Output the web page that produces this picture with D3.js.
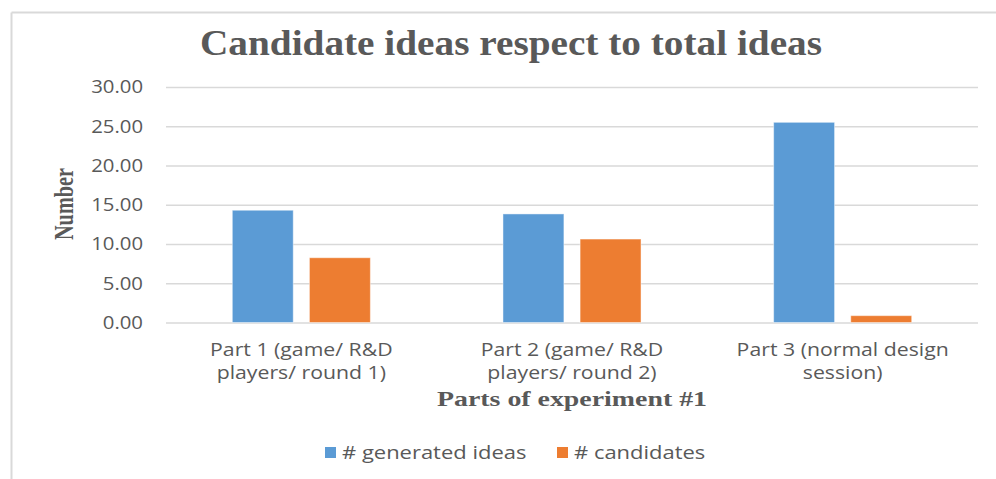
<!DOCTYPE html>
<html>
<head>
<meta charset="utf-8">
<script src="https://cdn.jsdelivr.net/npm/d3@7"></script>
<style>
  html, body { margin: 0; padding: 0; background: #fff; }
  svg { display: block; }
</style>
</head>
<body>
<div id="chart"></div>
<script>
// Chart data
const categories = [
  ["Part 1 (game/ R&D", "players/ round 1)"],
  ["Part 2 (game/ R&D", "players/ round 2)"],
  ["Part 3 (normal design", "session)"]
];
const seriesNames = ["# generated ideas", "# candidates"];
const generatedIdeas = [14.3, 13.83, 25.5];
const candidates = [8.25, 10.63, 0.87];
const yTicks = [0, 5, 10, 15, 20, 25, 30];
const seriesColors = ["#5B9BD5", "#ED7D31"];

const W = 996, H = 479;
const margin = { left: 166, right: 18, top: 87, bottom: 156.5 };
const textGray = "#595959";
const sansFont = "'Open Sans', 'Liberation Sans', sans-serif";
const serifFont = "'Liberation Serif', 'DejaVu Serif', serif";

// Widen text horizontally by a factor, keeping its anchor
function widen(sel, factor) {
  sel.each(function () {
    const len = this.getComputedTextLength();
    d3.select(this).attr("textLength", len * factor).attr("lengthAdjust", "spacingAndGlyphs");
  });
}

const svg = d3.select("#chart").append("svg")
  .attr("width", W).attr("height", H);

// Chart frame (only top and left edges remain in view)
svg.append("line").attr("x1", 11.5).attr("x2", W).attr("y1", 12.5).attr("y2", 12.5)
  .attr("stroke", "#D9D9D9").attr("stroke-width", 2);
svg.append("line").attr("x1", 11.5).attr("x2", 11.5).attr("y1", 12.5).attr("y2", H)
  .attr("stroke", "#D9D9D9").attr("stroke-width", 2);

const plotW = W - margin.left - margin.right;
const plotH = H - margin.top - margin.bottom;

const idx = d3.range(categories.length);
const x0 = d3.scaleBand().domain(idx).range([margin.left, margin.left + plotW])
  .paddingInner(0.49).paddingOuter(0.245);
const x1 = d3.scaleBand().domain(d3.range(seriesNames.length)).range([0, x0.bandwidth()])
  .paddingInner(0.21);
const y = d3.scaleLinear().domain([0, 30]).range([margin.top + plotH, margin.top]);

// Gridlines and value axis
const yAxis = d3.axisLeft(y).tickValues(yTicks).tickFormat(d3.format(".2f"))
  .tickSize(-plotW).tickPadding(23);
const gy = svg.append("g").attr("transform", `translate(${margin.left},0)`).call(yAxis);
gy.select(".domain").remove();
gy.selectAll(".tick line").attr("stroke", "#D9D9D9").attr("stroke-width", 1.5);
gy.selectAll(".tick text").attr("fill", textGray)
  .style("font-family", sansFont).style("font-size", "18px");
widen(gy.selectAll(".tick text"), 1.13);

// Bars
const values = [generatedIdeas, candidates];
const groups = svg.append("g").selectAll("g").data(idx).join("g")
  .attr("transform", d => `translate(${x0(d)},0)`);
groups.selectAll("rect")
  .data(i => values.map((v, s) => ({ s, v: v[i] })))
  .join("rect")
  .attr("x", d => x1(d.s))
  .attr("width", x1.bandwidth())
  .attr("y", d => y(d.v))
  .attr("height", d => y(0) - y(d.v))
  .attr("fill", d => seriesColors[d.s])
  .attr("stroke", "rgba(255,255,255,0.45)")
  .attr("stroke-width", 1);

// Category labels
const xLab = svg.append("g").selectAll("text").data(idx).join("text")
  .attr("x", d => x0(d) + x0.bandwidth() / 2)
  .attr("y", 356)
  .attr("text-anchor", "middle")
  .attr("fill", textGray)
  .style("font-family", sansFont).style("font-size", "18px");
xLab.selectAll("tspan").data(d => categories[d]).join("tspan")
  .attr("x", function () { return d3.select(this.parentNode).attr("x"); })
  .attr("dy", (d, i) => i === 0 ? 0 : 22.5)
  .text(d => d);
widen(xLab.selectAll("tspan"), 1.18);

// Title
svg.append("text")
  .attr("x", 511).attr("y", 55)
  .attr("text-anchor", "middle")
  .attr("fill", textGray)
  .style("font-family", serifFont).style("font-weight", "bold").style("font-size", "36px")
  .attr("textLength", 622).attr("lengthAdjust", "spacingAndGlyphs")
  .text("Candidate ideas respect to total ideas");

// Axis titles
svg.append("text")
  .attr("transform", `translate(73,204) rotate(-90)`)
  .attr("text-anchor", "middle")
  .attr("fill", textGray)
  .style("font-family", serifFont).style("font-weight", "bold").style("font-size", "27px")
  .attr("textLength", 72).attr("lengthAdjust", "spacingAndGlyphs")
  .text("Number");

svg.append("text")
  .attr("x", margin.left + plotW / 2).attr("y", 406)
  .attr("text-anchor", "middle")
  .attr("fill", textGray)
  .style("font-family", serifFont).style("font-weight", "bold").style("font-size", "21px")
  .attr("textLength", 270).attr("lengthAdjust", "spacingAndGlyphs")
  .text("Parts of experiment #1");

// Legend
const legendX = [325, 557];
const legend = svg.append("g").selectAll("g").data(seriesNames).join("g")
  .attr("transform", (d, i) => `translate(${legendX[i]},447)`);
legend.append("rect").attr("width", 11).attr("height", 11)
  .attr("fill", (d, i) => seriesColors[i]);
const legText = legend.append("text").attr("x", 17).attr("y", 12)
  .attr("fill", textGray)
  .style("font-family", sansFont).style("font-size", "18px")
  .text(d => d);
widen(legText, 1.22);
</script>
</body>
</html>
